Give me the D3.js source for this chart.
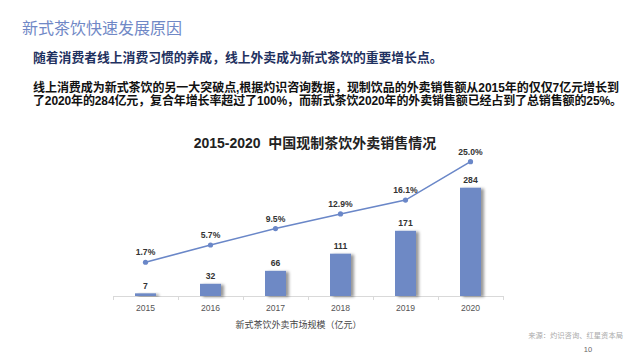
<!DOCTYPE html>
<html><head><meta charset="utf-8">
<script src="https://cdn.jsdelivr.net/npm/d3@7"></script>
<style>
html,body{margin:0;padding:0;background:#fff;}
svg{display:block;font-family:"Liberation Sans","Noto Sans CJK SC",sans-serif;}
</style></head>
<body><svg id="c" width="640" height="360"></svg>
<script>
const years = ["2015","2016","2017","2018","2019","2020"];
const sales = [7, 32, 66, 111, 171, 284];
const share = [1.7, 5.7, 9.5, 12.9, 16.1, 25.0];
const shareLabels = ["1.7%","5.7%","9.5%","12.9%","16.1%","25.0%"];
const pageTitle = "新式茶饮快速发展原因";
const subTitle = "随着消费者线上消费习惯的养成，线上外卖成为新式茶饮的重要增长点。";
const para1 = "线上消费成为新式茶饮的另一大突破点,根据灼识咨询数据，现制饮品的外卖销售额从2015年的仅仅7亿元增长到";
const para2 = "了2020年的284亿元，复合年增长率超过了100%，而新式茶饮2020年的外卖销售额已经占到了总销售额的25%。";
const chartTitle = "2015-2020  中国现制茶饮外卖销售情况";
const axisTitle = "新式茶饮外卖市场规模（亿元）";
const sourceText = "来源：灼识咨询、红星资本局";
const pageNum = "10";

const svg = d3.select("#c");
const cjk = '"Noto Sans CJK SC","Liberation Sans",sans-serif';

// header texts
svg.append("text").attr("x",22).attr("y",33.5).attr("font-size",16).attr("fill","#7088c6")
  .attr("font-family",cjk).text(pageTitle);
svg.append("text").attr("x",33).attr("y",62).attr("font-size",12.8).attr("font-weight","bold")
  .attr("fill","#1f3160").attr("font-family",cjk).text(subTitle);
svg.append("text").attr("x",33).attr("y",91.5).attr("font-size",12).attr("font-weight","bold")
  .attr("fill","#111").attr("textLength",586).attr("lengthAdjust","spacing").text(para1);
svg.append("text").attr("x",33).attr("y",104.5).attr("font-size",12).attr("font-weight","bold")
  .attr("fill","#111").attr("textLength",589).attr("lengthAdjust","spacing").text(para2);

// defs
const defs = svg.append("defs");
const f = defs.append("filter").attr("id","sh").attr("x","-50%").attr("y","-20%").attr("width","200%").attr("height","140%");
f.append("feDropShadow").attr("dx",3).attr("dy",1).attr("stdDeviation",1.5)
  .attr("flood-color","#000").attr("flood-opacity",0.4);

const x = d3.scaleBand().domain(years).range([113,503]).padding(0);
const yBar = d3.scaleLinear().domain([0,300]).range([296,181.6]);
const yLine = d3.scaleLinear().domain([0,30]).range([269.6,140.1]);
const bw = 21;

// chart title
svg.append("text").attr("x",315).attr("y",147.5).attr("text-anchor","middle")
  .style("white-space","pre")
  .attr("font-size",14).attr("font-weight","bold").attr("fill","#222").text(chartTitle);

// x axis
const ax = svg.append("g").attr("transform","translate(0,296)")
  .call(d3.axisBottom(x).tickSize(0).tickPadding(9));
ax.select(".domain").attr("stroke","#d9d9d9");
ax.selectAll("text").attr("font-size",8.6).attr("fill","#555")
  .attr("font-family",'"Liberation Sans",sans-serif');
const bounds = years.map(d=>x(d)).concat([x.range()[1]]);
ax.selectAll(".bt").data(bounds).join("line").attr("class","bt")
  .attr("x1",d=>d+0.5).attr("x2",d=>d+0.5).attr("y1",0).attr("y2",4)
  .attr("stroke","#d9d9d9");

// bars
svg.append("g").selectAll("rect").data(years).join("rect")
  .attr("x",(d)=>x(d)+x.bandwidth()/2-bw/2)
  .attr("y",(d,i)=>yBar(sales[i]))
  .attr("width",bw)
  .attr("height",(d,i)=>296-yBar(sales[i]))
  .attr("fill","#6e89c5").attr("filter","url(#sh)");
svg.append("g").selectAll("text").data(years).join("text")
  .attr("x",d=>x(d)+x.bandwidth()/2)
  .attr("y",(d,i)=>yBar(sales[i])-4.5)
  .attr("text-anchor","middle").attr("font-size",8.6).attr("font-weight","bold")
  .attr("fill","#333").text((d,i)=>sales[i]);

// line
const line = d3.line().x((d,i)=>x(years[i])+x.bandwidth()/2).y(d=>yLine(d));
svg.append("path").datum(share).attr("d",line).attr("fill","none")
  .attr("stroke","#6a87c8").attr("stroke-width",1.6);
svg.append("g").selectAll("circle").data(share).join("circle")
  .attr("cx",(d,i)=>x(years[i])+x.bandwidth()/2).attr("cy",d=>yLine(d))
  .attr("r",2.6).attr("fill","#6a87c8");
svg.append("g").selectAll("text").data(share).join("text")
  .attr("x",(d,i)=>x(years[i])+x.bandwidth()/2).attr("y",d=>yLine(d)-6.8)
  .attr("text-anchor","middle").attr("font-size",8.6).attr("font-weight","bold")
  .attr("fill","#333").text((d,i)=>shareLabels[i]);

// axis title
svg.append("text").attr("x",298.5).attr("y",327.5).attr("text-anchor","middle")
  .attr("font-size",9).attr("fill","#444").attr("font-family",cjk).text(axisTitle);

// source and page number
svg.append("text").attr("x",623).attr("y",337.5).attr("text-anchor","end")
  .attr("font-size",7.3).attr("fill","#aaa").attr("font-family",cjk).text(sourceText);
svg.append("text").attr("x",588).attr("y",351.5).attr("text-anchor","middle")
  .attr("font-size",7.5).attr("fill","#666").text(pageNum);
</script></body></html>
